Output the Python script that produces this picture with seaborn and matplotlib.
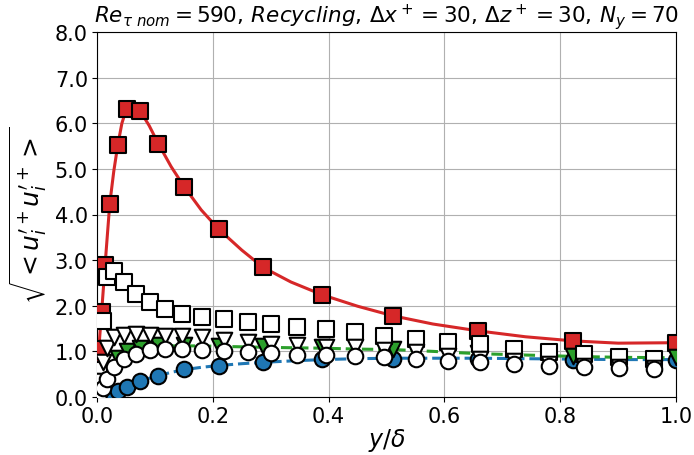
import numpy as np
import pandas as pd
import matplotlib
matplotlib.use("Agg")
import matplotlib.pyplot as plt
import seaborn as sns

# ---- reference (DNS) curves: lines ----
ref_y = [0.0, 0.003, 0.008, 0.014, 0.022, 0.029, 0.036, 0.043, 0.051, 0.062, 0.075, 0.09,
         0.106, 0.128, 0.151, 0.18, 0.21, 0.25, 0.287, 0.335, 0.389, 0.45, 0.511, 0.58,
         0.658, 0.74, 0.822, 0.9, 1.0]
ref_uu = [0.0, 1.05, 1.86, 2.9, 4.23, 4.95, 5.53, 6.0, 6.32, 6.4, 6.26, 5.95,
          5.55, 5.05, 4.6, 4.1, 3.68, 3.22, 2.84, 2.52, 2.24, 1.99, 1.78, 1.6,
          1.45, 1.32, 1.23, 1.18, 1.19]
ref_vv = [0.0, 0.0, 0.02, 0.05, 0.09, 0.12, 0.15, 0.19, 0.23, 0.28, 0.34, 0.41,
          0.47, 0.54, 0.6, 0.65, 0.69, 0.73, 0.76, 0.79, 0.82, 0.84, 0.85, 0.85,
          0.85, 0.84, 0.83, 0.82, 0.82]
ref_ww = [0.0, 0.05, 0.2, 0.4, 0.6, 0.74, 0.85, 0.94, 1.0, 1.05, 1.08, 1.1,
          1.12, 1.12, 1.12, 1.12, 1.11, 1.1, 1.09, 1.08, 1.07, 1.05, 1.04, 1.0,
          0.95, 0.92, 0.89, 0.87, 0.86]

# ---- reference markers ----
mk_y = [0.003, 0.008, 0.014, 0.022, 0.036, 0.051, 0.075, 0.106, 0.151, 0.21, 0.287,
        0.389, 0.511, 0.658, 0.822, 1.0]
mk_uu = [1.05, 1.86, 2.9, 4.23, 5.53, 6.32, 6.26, 5.55, 4.6, 3.68, 2.84,
         2.24, 1.78, 1.45, 1.23, 1.19]
mk_vv = [0.0, 0.02, 0.05, 0.09, 0.14, 0.23, 0.34, 0.47, 0.61, 0.69, 0.76,
         0.83, 0.83, 0.84, 0.82, 0.82]
mk_ww = [0.05, 0.2, 0.4, 0.6, 0.85, 1.0, 1.08, 1.13, 1.13, 1.12, 1.12,
         1.09, 1.06, 0.96, 0.9, 0.87]

# ---- simulation (white markers) ----
sim_y = [0.0, 0.004, 0.010, 0.017, 0.029, 0.046, 0.067, 0.092, 0.118, 0.147, 0.181,
         0.220, 0.260, 0.301, 0.346, 0.395, 0.446, 0.496, 0.551, 0.607, 0.661, 0.720,
         0.781, 0.841, 0.901, 0.962]
sim_uu = [0.0, 0.6, 1.67, 2.62, 2.77, 2.51, 2.26, 2.08, 1.92, 1.82, 1.75,
          1.70, 1.65, 1.60, 1.54, 1.49, 1.42, 1.33, 1.27, 1.20, 1.16, 1.05,
          0.98, 0.94, 0.87, 0.83]
sim_ww = [0.0, 0.35, 0.76, 1.07, 1.31, 1.36, 1.38, 1.36, 1.34, 1.33, 1.31,
          1.24, 1.20, 1.16, 1.13, 1.10, 1.09, 1.02, 0.98, 0.90, 0.84, 0.78,
          0.72, 0.67, 0.65, 0.63]
sim_vv = [0.0, 0.07, 0.2, 0.39, 0.65, 0.83, 0.95, 1.03, 1.05, 1.05, 1.02,
          1.0, 0.98, 0.96, 0.93, 0.92, 0.89, 0.87, 0.83, 0.8, 0.76, 0.72,
          0.69, 0.66, 0.64, 0.62]

xticks = [0.0, 0.2, 0.4, 0.6, 0.8, 1.0]
yticks = [0.0, 1.0, 2.0, 3.0, 4.0, 5.0, 6.0, 7.0, 8.0]

sns.set_style("ticks")
plt.rcParams['font.family'] = ['DejaVu Sans']
plt.rcParams['mathtext.fontset'] = 'dejavusans'
plt.rcParams['text.color'] = 'black'
plt.rcParams['axes.labelcolor'] = 'black'
plt.rcParams['xtick.color'] = 'black'
plt.rcParams['ytick.color'] = 'black'

fig = plt.figure(figsize=(6.94, 4.56), dpi=100)
ax = fig.add_axes([97/694, 1 - 398/456, (676 - 97)/694, (398 - 33)/456])

red, blue, green = '#d62728', '#1f77b4', '#2ca02c'
ms = 125

sns.lineplot(x=ref_y, y=ref_uu, ax=ax, color=red, lw=2.2, linestyle='-', zorder=3)
sns.scatterplot(x=mk_y, y=mk_uu, ax=ax, marker='s', s=ms, color=red,
                edgecolor='black', linewidth=1.5, zorder=4)
sns.lineplot(x=ref_y, y=ref_vv, ax=ax, color=blue, lw=2.2, linestyle='--', zorder=3)
sns.scatterplot(x=mk_y, y=mk_vv, ax=ax, marker='o', s=ms, color=blue,
                edgecolor='black', linewidth=1.5, zorder=4)
sns.lineplot(x=ref_y, y=ref_ww, ax=ax, color=green, lw=2.2, linestyle='--', zorder=3)
sns.scatterplot(x=mk_y, y=mk_ww, ax=ax, marker='v', s=ms, color=green,
                edgecolor='black', linewidth=1.5, zorder=4)

sns.scatterplot(x=sim_y, y=sim_uu, ax=ax, marker='s', s=ms, color='white',
                edgecolor='black', linewidth=1.5, zorder=5)
sns.scatterplot(x=sim_y, y=sim_ww, ax=ax, marker='v', s=ms, color='white',
                edgecolor='black', linewidth=1.5, zorder=6)
sns.scatterplot(x=sim_y, y=sim_vv, ax=ax, marker='o', s=ms, color='white',
                edgecolor='black', linewidth=1.5, zorder=7)

ax.set_xlim(0, 1)
ax.set_ylim(0, 8)
ax.set_xticks(xticks)
ax.set_yticks(yticks)
ax.set_xticklabels([f"{t:.1f}" for t in xticks])
ax.set_yticklabels([f"{t:.1f}" for t in yticks])
ax.tick_params(labelsize=15, pad=3, colors='black')
ax.grid(True, color='#b0b0b0', lw=0.8)
ax.set_axisbelow(True)
for s in ax.spines.values():
    s.set_visible(True)
    s.set_color('black')

ax.set_xlabel(r'$y/\delta$', fontsize=17, labelpad=0)
ax.set_ylabel(r"$\sqrt{<u_i^{\prime +}u_i^{\prime +}>}$", fontsize=18)
ax.set_title(r"$Re_{\tau\ nom} = 590,\, Recycling,\, \Delta x^+ = 30,\, \Delta z^+ = 30,\, N_y = 70$",
             fontsize=15.5)

fig.savefig("out.png", dpi=100)
